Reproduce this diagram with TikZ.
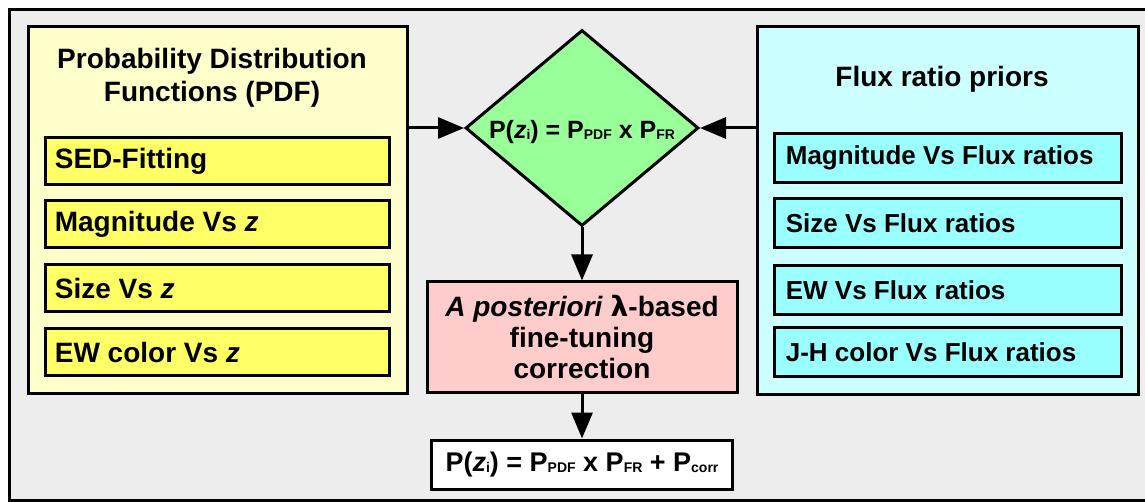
\documentclass[tikz,border=0pt]{standalone}
\usepackage{fontspec}
\setmainfont{Liberation Sans}
\usepackage{tikz}
\usetikzlibrary{arrows.meta,positioning,shapes.geometric}
\definecolor{PanelGray}{RGB}{237,237,237}
\definecolor{PdfPale}{RGB}{255,255,204}
\definecolor{PdfYellow}{RGB}{255,255,102}
\definecolor{FrPale}{RGB}{204,255,255}
\definecolor{FrCyan}{RGB}{153,255,255}
\definecolor{ProbGreen}{RGB}{153,255,153}
\definecolor{CorrPink}{RGB}{255,204,204}
\newcommand{\psub}[1]{\raisebox{-1.5pt}{\fontsize{14}{14}\selectfont #1}}

\begin{document}
\begin{tikzpicture}[x=1pt,y=-1pt,line width=3pt,
  font=\fontsize{28}{33}\selectfont\bfseries,
  panel/.style={draw,rectangle,inner sep=0pt,anchor=north west},
  item/.style={draw,rectangle,inner sep=0pt,anchor=north west,text depth=0pt},
  flow/.style={-{Triangle[length=26pt,width=21pt]}}]
  \useasboundingbox (0,0) rectangle (1145,502);
  \fill[PanelGray] (9,9) rectangle (1145,501);
  \draw (1145,9.5)--(9.5,9.5)--(9.5,500.5)--(1145,500.5);

  % PDF panel
  \node[panel,fill=PdfPale,minimum width=379pt,minimum height=367pt] (pdf) at (27,25) {};
  \node[align=center] (pdftitle) at (212,78) {Probability Distribution\\Functions (PDF)};
  \node[item,fill=PdfYellow,minimum width=344pt,minimum height=47pt] (sed) at (44,136) {};
  \node[item,fill=PdfYellow,minimum width=344pt,minimum height=47pt] (magz) at (44,199) {};
  \node[item,fill=PdfYellow,minimum width=344pt,minimum height=47pt] (sizez) at (44,263) {};
  \node[item,fill=PdfYellow,minimum width=344pt,minimum height=47pt] (ewz) at (44,327) {};
  \node[anchor=west] at ([xshift=6pt]sed.west) {SED-Fitting};
  \node[anchor=west] at ([xshift=6pt]magz.west) {Magnitude Vs \textit{z}};
  \node[anchor=west] at ([xshift=6pt]sizez.west) {Size Vs \textit{z}};
  \node[anchor=west] at ([xshift=6pt]ewz.west) {EW color Vs \textit{z}};

  % flux ratio panel
  \node[panel,fill=FrPale,minimum width=381pt,minimum height=368pt] (fr) at (756,25) {};
  \node (frtitle) at (942,79) {Flux ratio priors};
  \node[item,fill=FrCyan,minimum width=347pt,minimum height=49pt] (magfr) at (773,132) {};
  \node[item,fill=FrCyan,minimum width=347pt,minimum height=49pt] (sizefr) at (773,197) {};
  \node[item,fill=FrCyan,minimum width=347pt,minimum height=49pt] (ewfr) at (773,264) {};
  \node[item,fill=FrCyan,minimum width=347pt,minimum height=49pt] (jhfr) at (773,326) {};
  \node[anchor=west,font=\fontsize{26}{31}\selectfont\bfseries] at ([xshift=8pt]magfr.west) {Magnitude Vs Flux ratios};
  \node[anchor=west,font=\fontsize{26}{31}\selectfont\bfseries] at ([xshift=8pt]sizefr.west) {Size Vs Flux ratios};
  \node[anchor=west,font=\fontsize{26}{31}\selectfont\bfseries] at ([xshift=8pt]ewfr.west) {EW Vs Flux ratios};
  \node[anchor=west,font=\fontsize{26}{31}\selectfont\bfseries] at ([xshift=8pt]jhfr.west) {J-H color Vs Flux ratios};

  % combined probability
  \node[draw,diamond,fill=ProbGreen,inner sep=0pt,minimum width=233pt,minimum height=196pt] (prob) at (582,128) {};
  \node[font=\fontsize{25}{30}\selectfont\bfseries] at ([yshift=-4pt]prob.center)
    {P(\textit{z}\psub{i}) = P\psub{PDF} x P\psub{FR}};
  \node[draw,fill=CorrPink,align=center,minimum width=310pt,minimum height=110pt,inner sep=0pt,
    font=\fontsize{28}{31}\selectfont\bfseries] (corr) at (582,337)
    {\textit{A posteriori} \fontspec{DejaVu Sans}\textbf{λ}\normalfont\bfseries-based\\fine-tuning\\correction};
  \node[draw,fill=white,minimum width=301pt,minimum height=49pt,inner sep=0pt,
    font=\fontsize{27}{32}\selectfont\bfseries] (final) at (582,464.5)
    {P(\textit{z}\psub{i}) = P\psub{PDF} x P\psub{FR} + P\psub{corr}};

  \draw[flow] (pdf.east|-prob) -- (prob.west);
  \draw[flow] (fr.west|-prob) -- (prob.east);
  \draw[flow] (prob.south) -- (corr.north);
  \draw[flow] (corr.south) -- (final.north);
\end{tikzpicture}
\end{document}
